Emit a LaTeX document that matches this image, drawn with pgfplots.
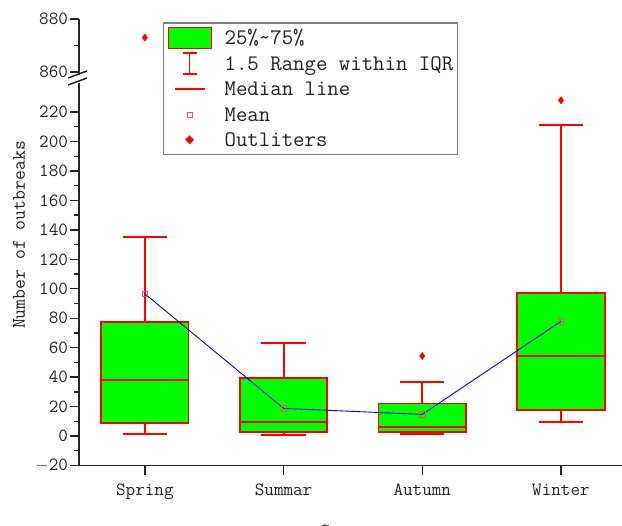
\documentclass[border=0pt]{standalone}
\usepackage{fontspec}
\usepackage{pgfplots}
\pgfplotsset{compat=1.18}
\definecolor{boxgreen}{RGB}{0,255,0}
\definecolor{axgray}{RGB}{35,35,35}
\definecolor{leggray}{RGB}{128,128,128}
\newcommand\tf[1]{\fontsize{#1}{#1}\selectfont\ttfamily}
\newcommand\legbox{\pgfpathrectangle{\pgfqpoint{0bp}{-12.75bp}}{\pgfqpoint{45bp}{25.5bp}}\pgfusepath{discard}}

\pgfplotsset{
  myaxis/.style={
    scale only axis, width=543bp, xmin=0.525, xmax=4.44,
    axis line style={line width=1.6bp, axgray, -},
    tick style={line width=1.3bp, axgray},
    tick align=outside, major tick length=9bp, minor tick length=4.5bp,
    ticklabel style={font=\tf{18.6bp}, text=axgray},
    yticklabel style={xshift=1.5bp},
    clip=false,
  },
  bx/.style={draw=red, fill=boxgreen, line width=1.8bp, line join=miter},
  wk/.style={red, line width=1.9bp},
}

\begin{document}
\begin{tikzpicture}
\path[use as bounding box] (-79bp,-60.5bp) rectangle (543bp,465.5bp);

% upper segment of the broken axis
\begin{axis}[myaxis, at={(0bp,390.85bp)}, anchor=south west,
  height=55.65bp, ymin=859, ymax=880,
  axis y line*=left, axis x line=none,
  ytick={860,880}, yticklabels={860,880}, minor y tick num=1, xtick=\empty]
  \addplot[only marks, mark=diamond*, mark size=3.6bp, red] coordinates {(1,873)};
\end{axis}

% lower segment
\begin{axis}[myaxis, at={(0bp,0bp)}, anchor=south west,
  height=382.9bp, ymin=-20, ymax=240,
  axis x line*=bottom, axis y line*=left,
  xtick={1,2,3,4}, xticklabels={Spring,Summar,Autumn,Winter},
  xticklabel style={yshift=-6bp},
  ytick={-20,0,20,40,60,80,100,120,140,160,180,200,220},
  yticklabels={{$-$20},0,20,40,60,80,100,120,140,160,180,200,220},
  minor y tick num=1,
  xlabel={Season}, ylabel={Number of outbreaks},
  label style={text=axgray},
  xlabel style={font=\tf{20bp}, at={(axis description cs:0.501,-0.189)}, anchor=base},
  ylabel style={font=\tf{19.2bp}, at={(axis description cs:-0.1105,0.602)}, anchor=center},
  legend style={at={(rel axis cs:0.1547,1.157)}, anchor=north west,
    draw=leggray, line width=1.2bp, fill=white,
    inner xsep=4bp, inner ysep=2bp, row sep=0pt, column sep=12bp,
    font=\tf{22.2bp}, text=axgray,
    nodes={inner sep=0pt, text height=19.75bp, text depth=5.75bp}},
  legend cell align=left,
]
  \addlegendimage{red, legend image code/.code={\legbox
    \draw[draw=red, fill=boxgreen, line width=1.4bp] (1bp,-10.5bp) rectangle (44bp,10.5bp);}}
  \addlegendentry{25\%\textasciitilde75\%}
  \addlegendimage{red, line width=1.5bp, legend image code/.code={\legbox
    \draw[draw=red, line width=1.5bp] (22bp,-10.5bp)--(22bp,10.5bp) (15bp,-10.5bp)--(29bp,-10.5bp) (15bp,10.5bp)--(29bp,10.5bp);}}
  \addlegendentry{1.5 Range within IQR}
  \addlegendimage{red, line width=1.5bp, legend image code/.code={\legbox
    \draw[draw=red, line width=1.5bp] (7bp,0bp)--(37bp,0bp);}}
  \addlegendentry{Median line}
  \addlegendimage{red, legend image code/.code={\legbox
    \draw[draw=red!70, line width=0.6bp, fill=none] (19.5bp,-2.5bp) rectangle (24.5bp,2.5bp);}}
  \addlegendentry{Mean}
  \addlegendimage{red, legend image code/.code={\legbox
    \fill[red] (22bp,-3.6bp)--(25.6bp,0bp)--(22bp,3.6bp)--(18.4bp,0bp)--cycle;}}
  \addlegendentry{Outliters}

  % Spring: whiskers 1.2 / 135.3, box 8.6-77.2, median 38
  \addplot[wk] coordinates {(1,77.2) (1,135.3)};
  \addplot[wk] coordinates {(0.84,135.3) (1.16,135.3)};
  \addplot[wk] coordinates {(1,1.2) (1,8.6)};
  \addplot[wk] coordinates {(0.84,1.2) (1.16,1.2)};
  \addplot[bx] coordinates {(0.685,8.6) (1.315,8.6) (1.315,77.2) (0.685,77.2)} -- cycle;
  \addplot[wk] coordinates {(0.685,38) (1.315,38)};
  % Summar: whiskers 1 / 63.2, box 2.5-39.2, median 9.3
  \addplot[wk] coordinates {(2,39.2) (2,63.2)};
  \addplot[wk] coordinates {(1.84,63.2) (2.16,63.2)};
  \addplot[wk] coordinates {(2,1) (2,2.5)};
  \addplot[wk] coordinates {(1.84,1) (2.16,1)};
  \addplot[bx] coordinates {(1.685,2.5) (2.315,2.5) (2.315,39.2) (1.685,39.2)} -- cycle;
  \addplot[wk] coordinates {(1.685,9.3) (2.315,9.3)};
  % Autumn: whiskers 1.5 / 36.4, box 2.5-22.1, median 6.3
  \addplot[wk] coordinates {(3,22.1) (3,36.4)};
  \addplot[wk] coordinates {(2.84,36.4) (3.16,36.4)};
  \addplot[wk] coordinates {(3,1.5) (3,2.5)};
  \addplot[wk] coordinates {(2.84,1.5) (3.16,1.5)};
  \addplot[bx] coordinates {(2.685,2.5) (3.315,2.5) (3.315,22.1) (2.685,22.1)} -- cycle;
  \addplot[wk] coordinates {(2.685,6.3) (3.315,6.3)};
  % Winter: whiskers 9.3 / 211.2, box 17.7-96.9, median 54.5
  \addplot[wk] coordinates {(4,96.9) (4,211.2)};
  \addplot[wk] coordinates {(3.84,211.2) (4.16,211.2)};
  \addplot[wk] coordinates {(4,9.3) (4,17.7)};
  \addplot[wk] coordinates {(3.84,9.3) (4.16,9.3)};
  \addplot[bx] coordinates {(3.685,17.7) (4.315,17.7) (4.315,96.9) (3.685,96.9)} -- cycle;
  \addplot[wk] coordinates {(3.685,54.5) (4.315,54.5)};

  % means
  \addplot[blue, line width=0.9bp] coordinates {(1,96.6) (2,18.8) (3,14.7) (4,77.9)};
  \addplot[only marks, mark=square, mark size=2.6bp, red!70, mark options={line width=0.6bp}]
    coordinates {(1,96.6) (2,18.8) (3,14.7) (4,77.9)};
  % outliers
  \addplot[only marks, mark=diamond*, mark size=3.6bp, red] coordinates {(3,54.3) (4,228)};
\end{axis}

% axis-break marks
\draw[axgray, line width=1.5bp] (-11bp,387.5bp)--(8bp,394.5bp);
\draw[axgray, line width=1.5bp] (-11bp,380.5bp)--(8bp,387.5bp);
\end{tikzpicture}
\end{document}
